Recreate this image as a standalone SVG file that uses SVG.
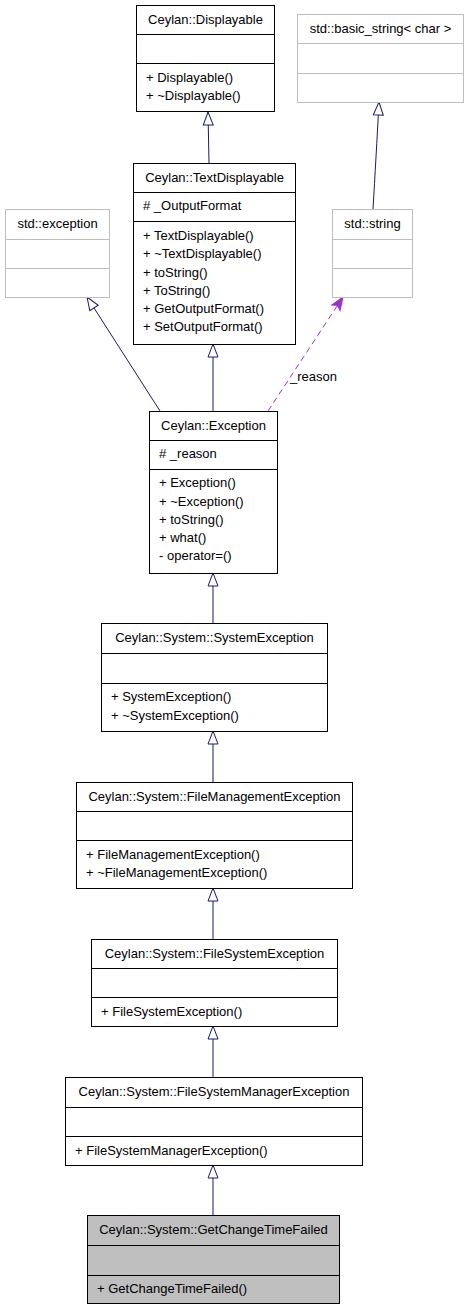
<svg xmlns="http://www.w3.org/2000/svg" width="468" height="1309" viewBox="0 0 468 1309">
<style>
text{font-family:"Liberation Sans",Arial,sans-serif;font-size:13px;fill:#000}
.t{text-anchor:middle}
.box{fill:#fff;stroke:#000;stroke-width:1}
.gbox{fill:#fff;stroke:#bfbfbf;stroke-width:1}
.cur{fill:#bfbfbf;stroke:#000;stroke-width:1}
.div{stroke:#000;stroke-width:1}
.gdiv{stroke:#bfbfbf;stroke-width:1}
.e{fill:none;stroke:#191970;stroke-width:1}
.u{fill:none;stroke:#9a32cd;stroke-width:1;stroke-dasharray:6,4}
</style>
<defs>
<marker id="inh" markerUnits="userSpaceOnUse" markerWidth="15" markerHeight="12" refX="13" refY="5" orient="auto" viewBox="-1 -1 15 12">
<path d="M0,0 L13,5 L0,10 Z" fill="#fff" stroke="#191970" stroke-width="1"/>
</marker>
<marker id="use" markerUnits="userSpaceOnUse" markerWidth="15" markerHeight="12" refX="13" refY="5" orient="auto" viewBox="-1 -1 15 12">
<path d="M0,0 L13,5 L0,10 L3,5 Z" fill="#9a32cd" stroke="#9a32cd" stroke-width="1"/>
</marker>
</defs>
<g id="edges">
<path class="e" d="M209,163 L208,112" marker-end="url(#inh)"/>
<path class="e" d="M373,209 C375,175 377,140 379,102" marker-end="url(#inh)"/>
<path class="e" d="M160,411 L87,297" marker-end="url(#inh)"/>
<path class="e" d="M213,411 L213,344" marker-end="url(#inh)"/>
<path class="u" d="M268,411 L343,297" marker-end="url(#use)"/>
<text x="290" y="381">_reason</text>
<path class="e" d="M213,623 L213,573" marker-end="url(#inh)"/>
<path class="e" d="M213,782 L213,731" marker-end="url(#inh)"/>
<path class="e" d="M213,939 L213,888" marker-end="url(#inh)"/>
<path class="e" d="M213,1077 L213,1026" marker-end="url(#inh)"/>
<path class="e" d="M213,1215 L213,1165" marker-end="url(#inh)"/>
</g>
<g id="Displayable">
<rect class="box" x="136.5" y="5.5" width="138" height="106"/>
<line class="div" x1="136.5" y1="34.5" x2="274.5" y2="34.5"/>
<line class="div" x1="136.5" y1="63.5" x2="274.5" y2="63.5"/>
<text class="t" x="205.5" y="24">Ceylan::Displayable</text>
<text x="146" y="82">+ Displayable()</text>
<text x="146" y="100">+ ~Displayable()</text>
</g>
<g id="basic_string">
<rect class="gbox" x="297.5" y="14.5" width="166" height="88"/>
<line class="gdiv" x1="297.5" y1="43.5" x2="463.5" y2="43.5"/>
<line class="gdiv" x1="297.5" y1="73.5" x2="463.5" y2="73.5"/>
<text class="t" x="380.5" y="33">std::basic_string&lt; char &gt;</text>
</g>
<g id="TextDisplayable">
<rect class="box" x="133.5" y="163.5" width="162" height="181"/>
<line class="div" x1="133.5" y1="192.5" x2="295.5" y2="192.5"/>
<line class="div" x1="133.5" y1="221.5" x2="295.5" y2="221.5"/>
<text class="t" x="214.5" y="182">Ceylan::TextDisplayable</text>
<text x="143" y="210"># _OutputFormat</text>
<text x="143" y="240">+ TextDisplayable()</text>
<text x="143" y="258">+ ~TextDisplayable()</text>
<text x="143" y="276.5">+ toString()</text>
<text x="143" y="294.5">+ ToString()</text>
<text x="143" y="313">+ GetOutputFormat()</text>
<text x="143" y="331">+ SetOutputFormat()</text>
</g>
<g id="std_exception">
<rect class="gbox" x="5.5" y="209.5" width="104" height="88"/>
<line class="gdiv" x1="5.5" y1="239.5" x2="109.5" y2="239.5"/>
<line class="gdiv" x1="5.5" y1="268.5" x2="109.5" y2="268.5"/>
<text class="t" x="57.5" y="228">std::exception</text>
</g>
<g id="std_string">
<rect class="gbox" x="332.5" y="209.5" width="80" height="88"/>
<line class="gdiv" x1="332.5" y1="239.5" x2="412.5" y2="239.5"/>
<line class="gdiv" x1="332.5" y1="268.5" x2="412.5" y2="268.5"/>
<text class="t" x="372.5" y="228">std::string</text>
</g>
<g id="Exception">
<rect class="box" x="149.5" y="411.5" width="128" height="162"/>
<line class="div" x1="149.5" y1="440.5" x2="277.5" y2="440.5"/>
<line class="div" x1="149.5" y1="469.5" x2="277.5" y2="469.5"/>
<text class="t" x="213.5" y="430">Ceylan::Exception</text>
<text x="159" y="458"># _reason</text>
<text x="159" y="487">+ Exception()</text>
<text x="159" y="505.5">+ ~Exception()</text>
<text x="159" y="523.5">+ toString()</text>
<text x="159" y="542">+ what()</text>
<text x="159" y="560">- operator=()</text>
</g>
<g id="SystemException">
<rect class="box" x="101.5" y="623.5" width="226" height="108"/>
<line class="div" x1="101.5" y1="653.5" x2="327.5" y2="653.5"/>
<line class="div" x1="101.5" y1="683.5" x2="327.5" y2="683.5"/>
<text class="t" x="214.5" y="642">Ceylan::System::SystemException</text>
<text x="111" y="701">+ SystemException()</text>
<text x="111" y="719.5">+ ~SystemException()</text>
</g>
<g id="FileManagementException">
<rect class="box" x="76.5" y="782.5" width="276" height="106"/>
<line class="div" x1="76.5" y1="811.5" x2="352.5" y2="811.5"/>
<line class="div" x1="76.5" y1="840.5" x2="352.5" y2="840.5"/>
<text class="t" x="214.5" y="801">Ceylan::System::FileManagementException</text>
<text x="86" y="858.5">+ FileManagementException()</text>
<text x="86" y="877">+ ~FileManagementException()</text>
</g>
<g id="FileSystemException">
<rect class="box" x="91.5" y="939.5" width="246" height="87"/>
<line class="div" x1="91.5" y1="968.5" x2="337.5" y2="968.5"/>
<line class="div" x1="91.5" y1="997.5" x2="337.5" y2="997.5"/>
<text class="t" x="214.5" y="958">Ceylan::System::FileSystemException</text>
<text x="101" y="1015.5">+ FileSystemException()</text>
</g>
<g id="FileSystemManagerException">
<rect class="box" x="65.5" y="1077.5" width="297" height="88"/>
<line class="div" x1="65.5" y1="1107.5" x2="362.5" y2="1107.5"/>
<line class="div" x1="65.5" y1="1136.5" x2="362.5" y2="1136.5"/>
<text class="t" x="214" y="1096">Ceylan::System::FileSystemManagerException</text>
<text x="75" y="1154.5">+ FileSystemManagerException()</text>
</g>
<g id="GetChangeTimeFailed">
<rect class="cur" x="87.5" y="1215.5" width="252" height="88"/>
<line class="div" x1="87.5" y1="1245.5" x2="339.5" y2="1245.5"/>
<line class="div" x1="87.5" y1="1275.5" x2="339.5" y2="1275.5"/>
<text class="t" x="213.5" y="1234">Ceylan::System::GetChangeTimeFailed</text>
<text x="97" y="1293">+ GetChangeTimeFailed()</text>
</g>
</svg>
